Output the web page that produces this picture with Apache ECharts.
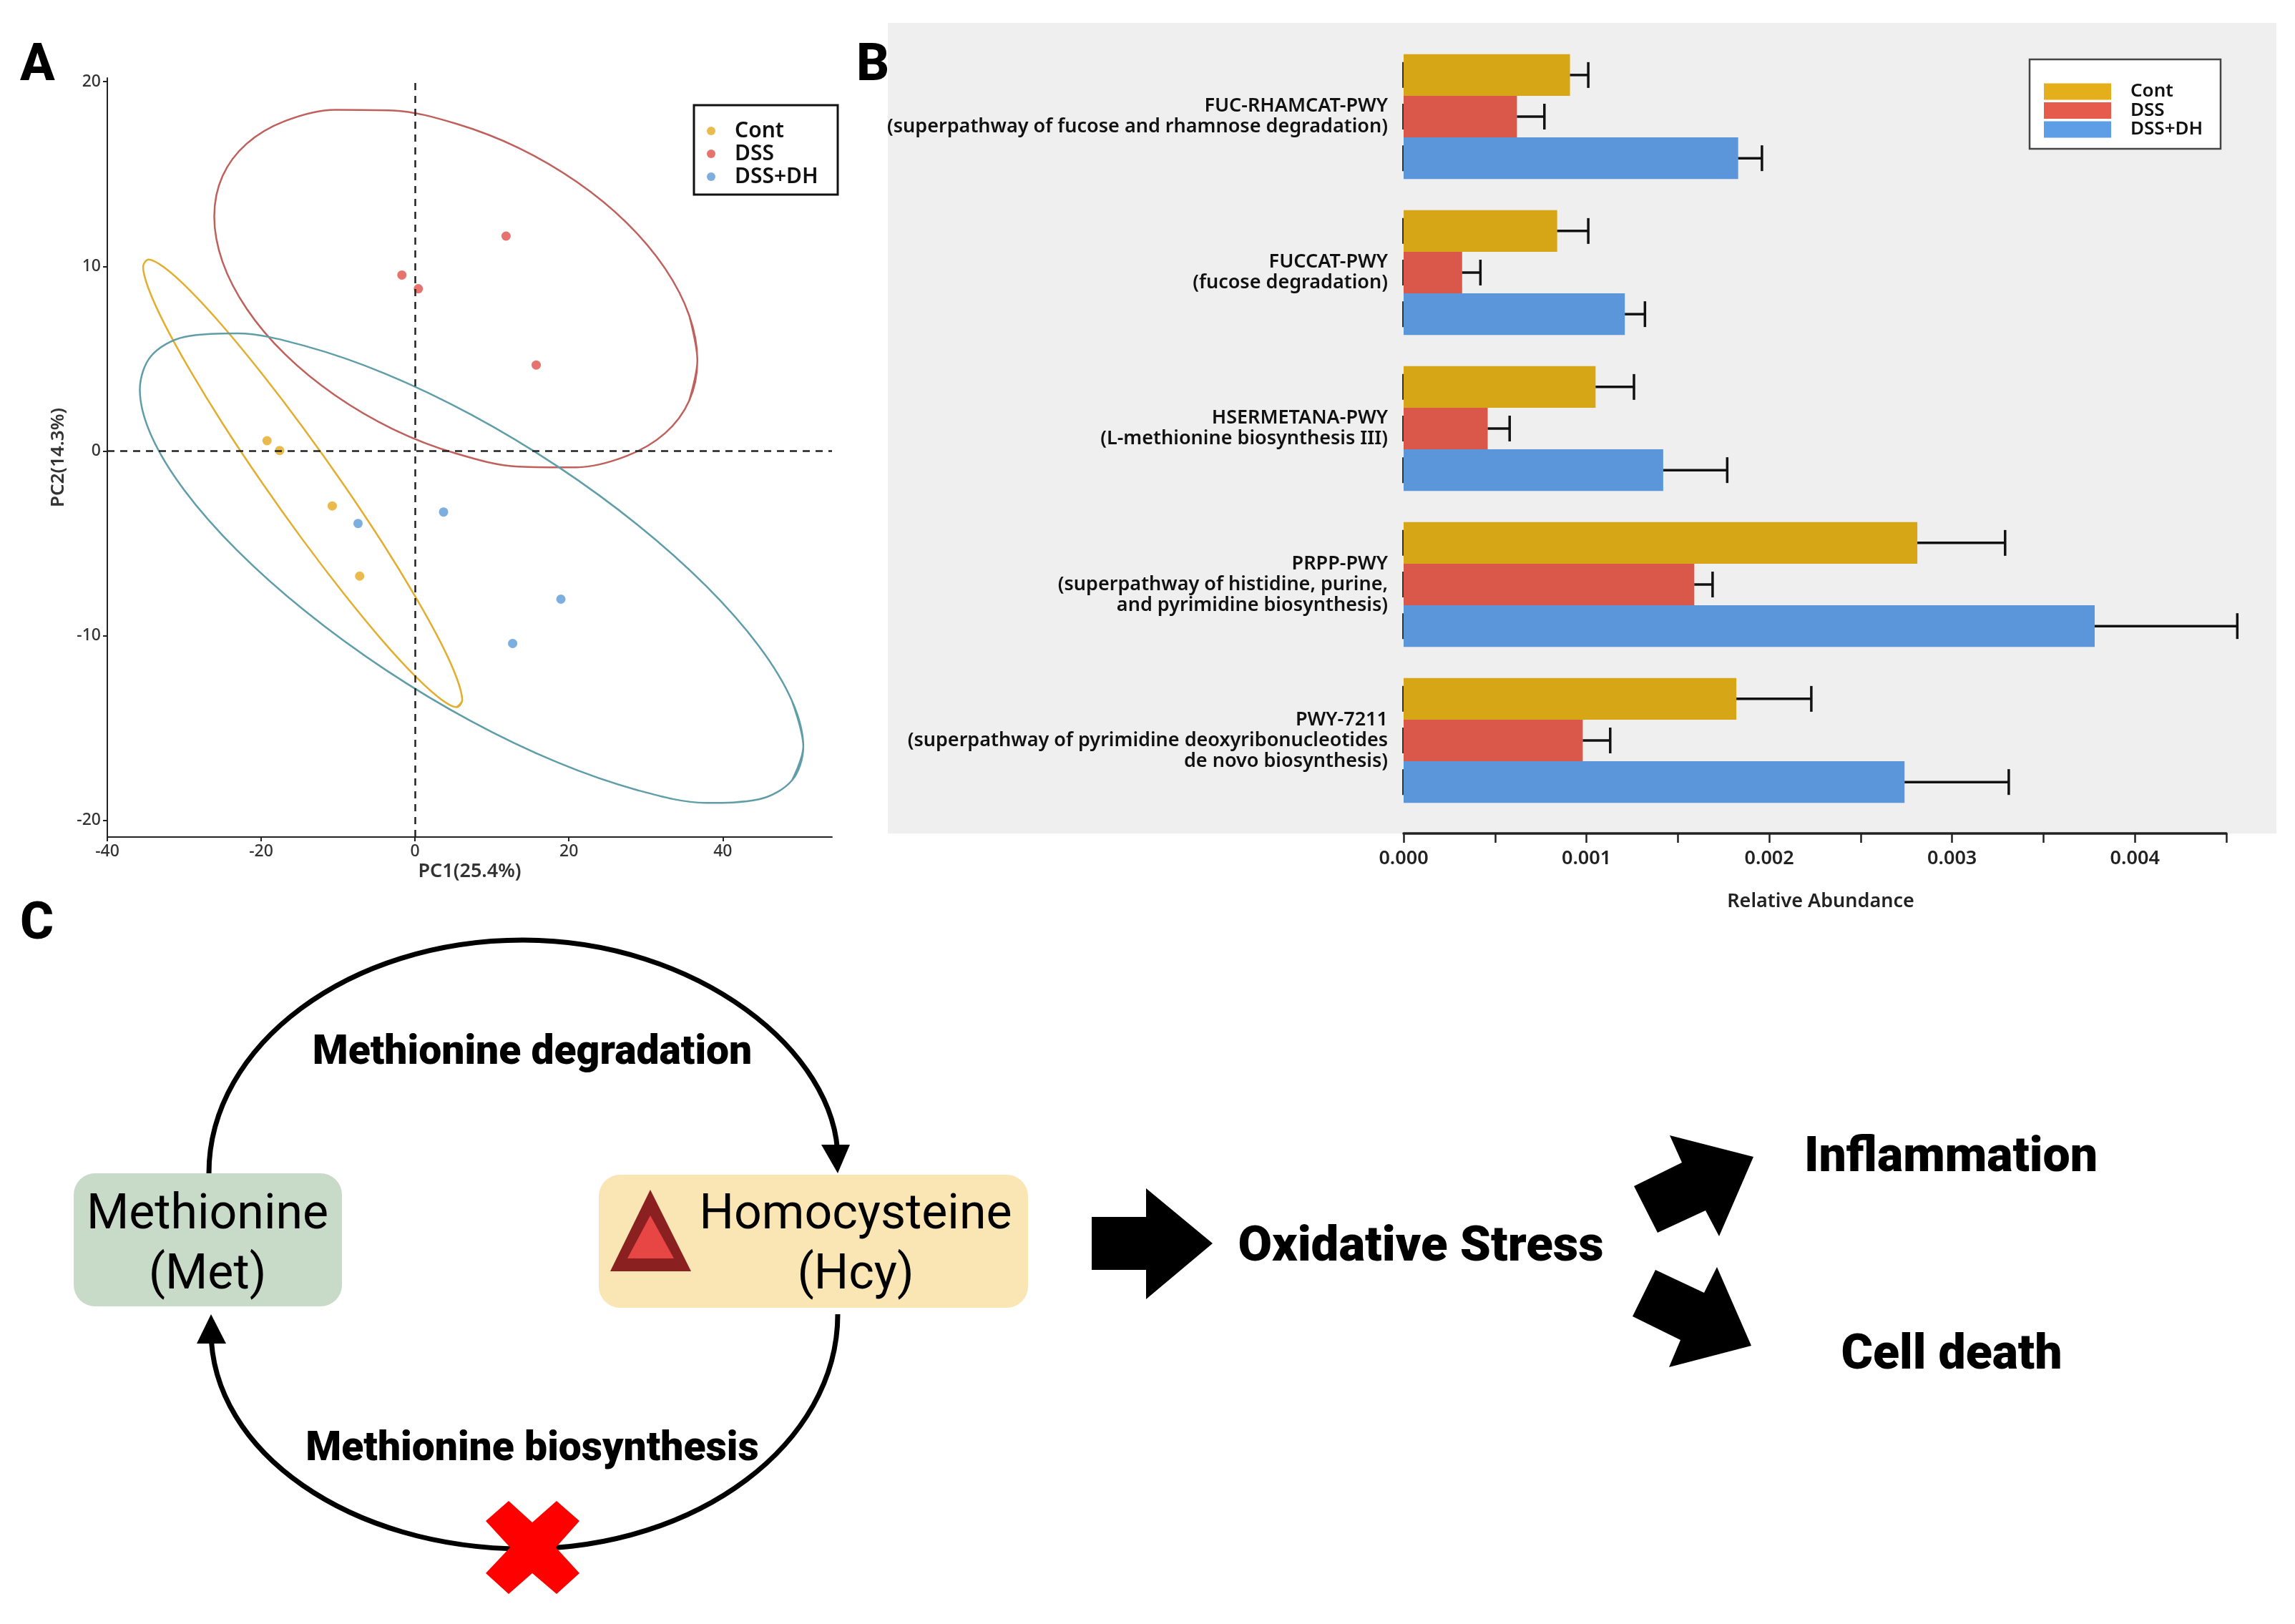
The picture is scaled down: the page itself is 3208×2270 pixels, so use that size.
<!DOCTYPE html>
<html>
<head>
<meta charset="utf-8">
<style>
html,body{margin:0;padding:0;background:#fff;}
#chart{width:3208px;height:2270px;}
</style>
<script src="https://cdn.jsdelivr.net/npm/echarts@6/dist/echarts.min.js"></script>
</head>
<body>
<div id="chart"></div>
<script>
//A: PCA scatter, [PC1, PC2]
var contPoints=[[-19.24,0.56],[-17.6,0.03],[-10.76,-2.97],[-7.2,-6.77]];
var dssPoints=[[11.83,11.64],[-1.71,9.53],[0.43,8.79],[15.75,4.66]];
var dhPoints=[[-7.41,-3.92],[3.71,-3.3],[18.96,-8.02],[12.69,-10.42]];
//A: ellipse outlines, read off the picture and evened out by hand so the curve stays smooth
//(first and last points overlap the loop so the join has no corner)
var contEllipse=[[5.42,-13.87],[6.13,-13.48],[5.42,-12.29],[3.35,-10.38],[0.05,-7.89],[-4.24,-4.97],[-9.24,-1.84],[-14.61,1.3],[-19.98,4.23],[-24.98,6.76],[-29.27,8.7],[-32.57,9.93],[-34.64,10.37],[-35.35,9.98],[-34.64,8.79],[-32.57,6.88],[-29.27,4.39],[-24.98,1.47],[-19.98,-1.66],[-14.61,-4.8],[-9.24,-7.73],[-4.24,-10.26],[0.05,-12.2],[3.35,-13.43],[5.42,-13.87],[6.13,-13.48],[5.42,-12.29]];
var dssEllipse=[[35.63,2.72],[36.7,4.9],[35.63,7.35],[32.49,9.89],[27.5,12.36],[21,14.58],[13.43,16.42],[5.3,17.73],[-2.83,18.44],[-10.4,18.48],[-16.9,17.87],[-21.89,16.64],[-25.03,14.88],[-26.1,12.7],[-25.03,10.25],[-21.89,7.71],[-16.9,5.24],[-10.4,3.02],[-2.83,1.18],[5.3,-0.13],[13.43,-0.84],[21,-0.88],[27.5,-0.27],[32.49,0.96],[35.63,2.72],[36.7,4.9],[35.63,7.35]];
var dhEllipse=[[49,-17.83],[50.47,-16.01],[49,-13.53],[44.69,-10.56],[37.84,-7.31],[28.91,-3.99],[18.52,-0.83],[7.35,1.96],[-3.82,4.18],[-14.21,5.68],[-23.14,6.37],[-29.99,6.18],[-34.3,5.15],[-35.77,3.33],[-34.3,0.85],[-29.99,-2.12],[-23.14,-5.37],[-14.21,-8.69],[-3.82,-11.85],[7.35,-14.64],[18.52,-16.86],[28.91,-18.36],[37.84,-19.05],[44.69,-18.86],[49,-17.83],[50.47,-16.01],[49,-13.53]];
var pcaXTicks=[-40,-20,0,20,40];
var pcaYTicks=[-20,-10,0,10,20];
var groupNames=['Cont','DSS','DSS+DH'];

//B: relative abundance bars
var pathways=[
    'FUC-RHAMCAT-PWY\n(superpathway of fucose and rhamnose degradation)',
    'FUCCAT-PWY\n(fucose degradation)',
    'HSERMETANA-PWY\n(L-methionine biosynthesis III)',
    'PRPP-PWY\n(superpathway of histidine, purine,\nand pyrimidine biosynthesis)',
    'PWY-7211\n(superpathway of pyrimidine deoxyribonucleotides\nde novo biosynthesis)'
];
var contMeans=[0.00091,0.00084,0.00105,0.00281,0.00182];
var contUppers=[0.00101,0.00101,0.00126,0.00329,0.00223];
var dssMeans=[0.00062,0.00032,0.00046,0.00159,0.00098];
var dssUppers=[0.00077,0.00042,0.00058,0.00169,0.00113];
var dhMeans=[0.00183,0.00121,0.00142,0.00378,0.00274];
var dhUppers=[0.00196,0.00132,0.00177,0.00456,0.00331];
var abundanceLabels=[0,0.001,0.002,0.003,0.004];
var abundanceTicks=[0,0.0005,0.001,0.0015,0.002,0.0025,0.003,0.0035,0.004,0.0045];

var sansFont='"Noto Sans"';
var boldFont='Roboto';

//误差线，每根柱子一条
function errorSeries(name,means,uppers,slot){
    var data=[];
    for(var i=0;i<means.length;i++){
        data.push([i,means[i],uppers[i]]);
    }
    return {
        name:name,
        type:'custom',
        xAxisIndex:1,
        yAxisIndex:1,
        z:3,
        encode:{x:[1,2],y:0},
        renderItem:function(params,api){
            var band=api.size([0,1])[1];
            var mid=api.coord([0,api.value(0)])[1]+(slot-1)*band*0.8/3;
            var x0=api.coord([0,0])[0];
            var x1=api.coord([api.value(1),0])[0];
            var x2=api.coord([api.value(2),0])[0];
            var stroke={stroke:'#111',lineWidth:3.5};
            return {
                type:'group',
                children:[
                    {type:'line',shape:{x1:x1,y1:mid,x2:x2,y2:mid},style:stroke},
                    {type:'line',shape:{x1:x2,y1:mid-18,x2:x2,y2:mid+18},style:stroke},
                    {type:'line',shape:{x1:x0-1,y1:mid-18,x2:x0-1,y2:mid+18},style:{stroke:'#333',lineWidth:2}}
                ]
            };
        },
        data:data
    };
}

function ellipseSeries(name,points,color){
    return {
        name:name,
        type:'line',
        xAxisIndex:0,
        yAxisIndex:0,
        data:points,
        smooth:0.33,
        showSymbol:false,
        silent:true,
        lineStyle:{color:color,width:2.5},
        z:2
    };
}

function scatterSeries(name,points,color){
    return {
        name:name,
        type:'scatter',
        xAxisIndex:0,
        yAxisIndex:0,
        data:points,
        symbolSize:13,
        itemStyle:{color:color},
        z:4
    };
}

function barSeries(name,values,color){
    return {
        name:name,
        type:'bar',
        xAxisIndex:1,
        yAxisIndex:1,
        data:values,
        barGap:'0%',
        barCategoryGap:'20%',
        itemStyle:{color:color},
        z:2
    };
}

function diagramText(text,x,y,size,weight){
    return {
        type:'text',
        z:5,
        style:{
            text:text,x:x,y:y,
            fontFamily:boldFont,fontSize:size,fontWeight:weight,
            textAlign:'center',textVerticalAlign:'middle',fill:'#000'
        }
    };
}

function panelLetter(text,x,y){
    return {type:'text',z:5,style:{text:text,x:x,y:y,fontFamily:boldFont,fontSize:72,fontWeight:800,textVerticalAlign:'middle',fill:'#000'}};
}

function polygon(points,color){
    return {type:'polygon',z:5,shape:{points:points},style:{fill:color}};
}

function curve(x1,y1,cpx1,cpy1,cpx2,cpy2,x2,y2){
    return {
        type:'bezierCurve',
        z:4,
        shape:{x1:x1,y1:y1,cpx1:cpx1,cpy1:cpy1,cpx2:cpx2,cpy2:cpy2,x2:x2,y2:y2},
        style:{fill:'none',stroke:'#000',lineWidth:7}
    };
}

var graphicElements=[
    //B的灰色背景和图例框
    {type:'rect',z:-2,shape:{x:1241,y:32,width:1941,height:1133},style:{fill:'#efefef'}},
    {type:'rect',z:1,shape:{x:2837,y:83,width:267,height:125},style:{fill:'#fff',stroke:'#444',lineWidth:2.5}},
    {type:'rect',z:1,shape:{x:970,y:147,width:201,height:125},style:{fill:'#fff',stroke:'#111',lineWidth:3}},
    //面板字母
    panelLetter('A',28,94),
    panelLetter('B',1197,94),
    panelLetter('C',28,1294),
    //C
    {type:'rect',z:3,shape:{x:103,y:1640,width:375,height:186,r:30},style:{fill:'#c8dac8'}},
    {type:'rect',z:3,shape:{x:837,y:1642,width:600,height:186,r:30},style:{fill:'#f9e6b4'}},
    polygon([[909,1663],[966,1777],[853,1777]],'#8b2020'),
    polygon([[909,1699],[942,1759],[877,1759]],'#e84545'),
    curve(292,1640,292,1460,489,1314,731,1314),
    curve(731,1314,974,1314,1171,1470,1171,1620),
    curve(1171,1837,1171,2018,975,2165,733,2165),
    curve(733,2165,491,2165,295,2030,295,1860),
    polygon([[1148,1600],[1188,1600],[1171,1640]],'#000'),
    polygon([[275,1878],[316,1878],[295,1837]],'#000'),
    polygon([[711,2098],[744,2128],[778,2098],[810,2126],[777,2163],[810,2199],[778,2228],[744,2199],[711,2228],[679,2199],[713,2163],[679,2126]],'#ff0000'),
    polygon([[1526,1701],[1602,1701],[1602,1661],[1695,1738],[1602,1816],[1602,1775],[1526,1775]],'#000'),
    polygon([[2334,1587],[2451,1617],[2403,1728],[2384,1692],[2317,1723],[2284,1658],[2351,1625]],'#000'),
    polygon([[2333,1911],[2448,1881],[2400,1771],[2382,1807],[2314,1775],[2282,1840],[2349,1873]],'#000'),
    diagramText('Methionine',290,1700,68,400),
    diagramText('(Met)',290,1784,68,400),
    diagramText('Homocysteine',1196,1700,68,400),
    diagramText('(Hcy)',1196,1784,68,400),
    diagramText('Methionine degradation',744,1473,57,900),
    diagramText('Methionine biosynthesis',744,2027,57,900),
    diagramText('Oxidative Stress',1986,1745,69,900),
    diagramText('Inflammation',2727,1620,68,900),
    diagramText('Cell death',2728,1896,68,900)
];

var chart=echarts.init(document.getElementById('chart'));

var option={
    backgroundColor:'#fff',
    animation:false,
    textStyle:{fontFamily:sansFont},
    graphic:{elements:graphicElements},
    legend:[
        {
            data:groupNames.map(function(n){return {name:n,icon:'circle'};}),
            orient:'vertical',
            left:983,
            top:163,
            itemWidth:12,
            itemHeight:12,
            itemGap:2,
            selectedMode:false,
            z:10,
            textStyle:{fontFamily:sansFont,fontSize:30,fontWeight:600,color:'#111',padding:[0,0,0,22]}
        },
        {
            data:[
                {name:'Cont bar',icon:'rect',itemStyle:{color:'#e5ae1b'}},
                {name:'DSS bar',icon:'rect',itemStyle:{color:'#e65c4c'}},
                {name:'DSS+DH bar',icon:'rect',itemStyle:{color:'#5e9ee6'}}
            ],
            formatter:function(name){return name.replace(' bar','');},
            orient:'vertical',
            left:2852,
            top:110,
            itemWidth:94,
            itemHeight:23,
            itemGap:0.5,
            selectedMode:false,
            z:10,
            textStyle:{fontFamily:sansFont,fontSize:26,fontWeight:600,color:'#111',padding:[0,0,0,22]}
        }
    ],
    grid:[
        {left:150,top:109,width:1013,height:1061,containLabel:false},
        {left:1962,top:54,width:1150,height:1090,containLabel:false}
    ],
    xAxis:[
        {
            gridIndex:0,
            type:'value',
            min:-40,
            max:54.2,
            name:'PC1(25.4%)',
            nameLocation:'middle',
            nameGap:35,
            nameTextStyle:{fontSize:27,fontWeight:600,color:'#333'},
            splitLine:{show:false},
            axisLine:{show:true,onZero:false,lineStyle:{color:'#222',width:2}},
            axisTick:{show:true,length:6,customValues:pcaXTicks,lineStyle:{color:'#222',width:2}},
            axisLabel:{customValues:pcaXTicks,fontSize:23,fontWeight:500,color:'#333',margin:9}
        },
        {
            gridIndex:1,
            type:'value',
            min:0,
            max:0.0045,
            offset:21,
            name:'Relative Abundance',
            nameLocation:'middle',
            nameGap:82,
            nameTextStyle:{fontSize:27,fontWeight:600,color:'#222',padding:[0,0,0,16]},
            splitLine:{show:false},
            axisLine:{show:true,onZero:false,lineStyle:{color:'#222',width:3.5}},
            axisTick:{show:true,length:13,customValues:abundanceTicks,lineStyle:{color:'#222',width:2.5}},
            axisLabel:{
                customValues:abundanceLabels,
                fontSize:27,fontWeight:600,color:'#222',margin:22,
                formatter:function(v){return v.toFixed(3);}
            }
        }
    ],
    yAxis:[
        {
            gridIndex:0,
            type:'value',
            min:-20.9,
            max:20.2,
            name:'PC2(14.3%)',
            nameLocation:'middle',
            nameGap:55,
            nameTextStyle:{fontSize:26,fontWeight:600,color:'#333'},
            splitLine:{show:false},
            axisLine:{show:true,onZero:false,lineStyle:{color:'#222',width:2}},
            axisTick:{show:true,length:6,customValues:pcaYTicks,lineStyle:{color:'#222',width:2}},
            axisLabel:{customValues:pcaYTicks,fontSize:23,fontWeight:500,color:'#333',margin:9}
        },
        {
            gridIndex:1,
            type:'category',
            inverse:true,
            data:pathways,
            axisLine:{show:false},
            axisTick:{show:false},
            axisLabel:{fontSize:27,fontWeight:600,color:'#111',lineHeight:29,align:'right',margin:22}
        }
    ],
    series:[
        ellipseSeries('Cont ellipse',contEllipse,'#e3ad2e'),
        ellipseSeries('DSS ellipse',dssEllipse,'#c0605c'),
        ellipseSeries('DSS+DH ellipse',dhEllipse,'#5f9ea8'),
        {
            name:'origin',
            type:'line',
            xAxisIndex:0,
            yAxisIndex:0,
            data:[],
            silent:true,
            markLine:{
                silent:true,
                symbol:'none',
                label:{show:false},
                lineStyle:{color:'#222',type:[10,8],width:2.5},
                data:[{xAxis:0},{yAxis:0}]
            }
        },
        scatterSeries('Cont',contPoints,'#e6a91f'),
        scatterSeries('DSS',dssPoints,'#e0504a'),
        scatterSeries('DSS+DH',dhPoints,'#5b9ad8'),
        barSeries('Cont bar',contMeans,'#d6a616'),
        barSeries('DSS bar',dssMeans,'#da5849'),
        barSeries('DSS+DH bar',dhMeans,'#5c96da'),
        errorSeries('Cont error',contMeans,contUppers,0),
        errorSeries('DSS error',dssMeans,dssUppers,1),
        errorSeries('DSS+DH error',dhMeans,dhUppers,2)
    ]
};

chart.setOption(option);
</script>
</body>
</html>
